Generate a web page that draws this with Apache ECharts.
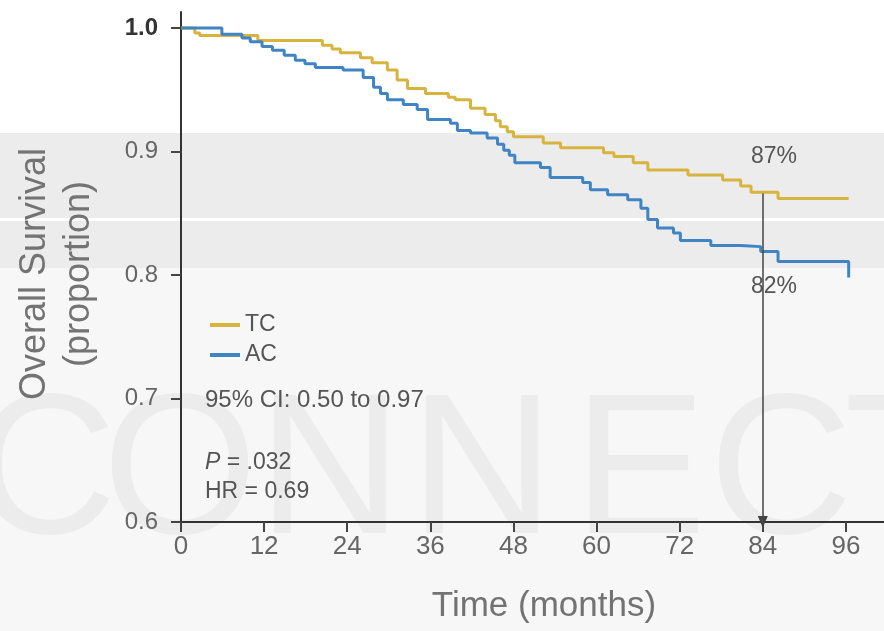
<!DOCTYPE html>
<html>
<head>
<meta charset="utf-8">
<title>Overall Survival TC vs AC</title>
<script src="https://cdn.jsdelivr.net/npm/echarts@6/dist/echarts.min.js"></script>
<style>
  html, body { margin: 0; padding: 0; background: #fff; }
  #chart { width: 884px; height: 631px; }
</style>
</head>
<body>
<div id="chart"></div>
<script>
// Kaplan-Meier step points (months, proportion alive)
const tcTime = [0, 2.0, 2.7, 11.1, 20.4, 21.8, 23.0, 25.9, 27.6, 29.8, 31.2, 32.7, 35.3, 38.6, 39.6, 41.8, 43.9, 45.4, 46.1, 47.1, 48.0, 52.3, 54.8, 61.0, 62.5, 65.3, 67.4, 73.2, 78.2, 80.8, 82.3, 86.2, 96.4]
const tcSurv = [1.0, 0.996, 0.994, 0.990, 0.986, 0.983, 0.980, 0.976, 0.972, 0.966, 0.958, 0.951, 0.947, 0.944, 0.942, 0.935, 0.930, 0.925, 0.920, 0.916, 0.912, 0.907, 0.903, 0.899, 0.896, 0.891, 0.885, 0.881, 0.877, 0.872, 0.867, 0.862, 0.862]

const acTime = [0, 5.9, 8.8, 10.0, 11.7, 13.2, 14.9, 16.5, 17.9, 19.4, 23.4, 26.3, 27.8, 28.8, 29.8, 32.1, 34.1, 35.6, 38.9, 39.9, 41.8, 44.2, 45.7, 46.6, 47.4, 48.2, 51.9, 53.3, 58.0, 59.1, 61.6, 64.5, 66.4, 67.4, 68.8, 71.1, 72.1, 76.5, 80.8, 83.7, 86.2, 96.4]
const acSurv = [1.0, 0.995, 0.992, 0.989, 0.985, 0.982, 0.978, 0.974, 0.971, 0.968, 0.966, 0.960, 0.952, 0.947, 0.942, 0.938, 0.934, 0.926, 0.923, 0.917, 0.915, 0.911, 0.906, 0.901, 0.897, 0.891, 0.887, 0.879, 0.875, 0.869, 0.865, 0.861, 0.854, 0.845, 0.838, 0.834, 0.828, 0.824, 0.823, 0.819, 0.811, 0.798]

const seriesNames = ['TC', 'AC']
const xTicks = [0, 12, 24, 36, 48, 60, 72, 84, 96]
const yTicks = [0.6, 0.7, 0.8, 0.9, 1.0]
const landmarkMonth = 84
const landmarkTop = 0.866
const landmarkLabels = ['87%', '82%']
const statLines = ['95% CI: 0.50 to 0.97', '.032', '0.69']

const FONT = "'Liberation Sans', Arial, sans-serif"
const TC_COLOR = '#D7B43E'
const AC_COLOR = '#4084C3'

const zip = (t, s) => t.map((m, i) => [m, s[i]])

const chart = echarts.init(document.getElementById('chart'))

const watermark = ['C', 'O', 'N', 'N', 'E', 'C', 'T']
const wmX = [45, 180, 330, 482, 640, 781, 905]

chart.setOption({
  backgroundColor: '#fff',
  animation: false,
  grid: { left: 181, right: 0, top: 12, bottom: 109 },
  xAxis: {
    type: 'value',
    min: 0,
    max: 101.5,
    interval: 12,
    splitLine: { show: false },
    axisLine: { lineStyle: { color: '#333', width: 2 } },
    axisTick: { length: 10, lineStyle: { color: '#444', width: 2 }, customValues: xTicks },
    axisLabel: {
      customValues: xTicks,
      margin: 12,
      fontSize: 26,
      color: '#666',
      fontFamily: FONT
    }
  },
  yAxis: {
    type: 'value',
    min: 0.6,
    max: 1.013,
    interval: 0.1,
    splitLine: { show: false },
    axisLine: { show: true, lineStyle: { color: '#333', width: 2 } },
    axisTick: { show: true, length: 10, lineStyle: { color: '#444', width: 2 }, customValues: yTicks },
    axisLabel: {
      customValues: yTicks,
      margin: 23,
      fontSize: 24,
      color: '#666',
      fontFamily: FONT,
      formatter: v => v > 0.99 ? '{b|' + v.toFixed(1) + '}' : v.toFixed(1),
      rich: { b: { fontSize: 24, fontWeight: 'bold', color: '#333', fontFamily: FONT } }
    }
  },
  legend: {
    data: seriesNames,
    orient: 'vertical',
    left: 205,
    top: 307,
    itemGap: 4,
    itemWidth: 30,
    itemHeight: 4,
    icon: 'rect',
    textStyle: { fontSize: 23, color: '#555', fontFamily: FONT, lineHeight: 26 }
  },
  graphic: [
    // paper shading behind the plot
    { type: 'rect', z: -20, shape: { x: 0, y: 133, width: 884, height: 85 }, style: { fill: '#ececec' } },
    { type: 'rect', z: -20, shape: { x: 0, y: 221, width: 884, height: 47 }, style: { fill: '#ececec' } },
    { type: 'rect', z: -20, shape: { x: 0, y: 268, width: 884, height: 363 }, style: { fill: '#f7f7f7' } },
    ...watermark.map((ch, i) => ({
      type: 'text', z: -10, x: wmX[i], y: 478,
      style: { text: ch, fontSize: 200, fontFamily: FONT, fill: 'rgba(0,0,0,0.045)', textAlign: 'center', textVerticalAlign: 'middle' }
    })),
    {
      type: 'text', x: 57, y: 274, rotation: Math.PI / 2,
      style: {
        text: 'Overall Survival\n(proportion)', fontSize: 36, lineHeight: 44, fontFamily: FONT,
        fill: '#737373', textAlign: 'center', textVerticalAlign: 'middle'
      }
    },
    {
      type: 'text', x: 544, y: 606,
      style: { text: 'Time (months)', fontSize: 35, fontFamily: FONT, fill: '#737373', textAlign: 'center', textVerticalAlign: 'middle' }
    },
    {
      type: 'text', x: 205, y: 400,
      style: { text: statLines[0], fontSize: 24, fontFamily: FONT, fill: '#555', textVerticalAlign: 'middle' }
    },
    {
      type: 'text', x: 205, y: 463,
      style: {
        text: '{i|P} = ' + statLines[1], fontSize: 23, fontFamily: FONT, fill: '#555', textVerticalAlign: 'middle',
        rich: { i: { fontStyle: 'italic', fontSize: 23, fontFamily: FONT, fill: '#555' } }
      }
    },
    {
      type: 'text', x: 205, y: 492,
      style: { text: 'HR = ' + statLines[2], fontSize: 23, fontFamily: FONT, fill: '#555', textVerticalAlign: 'middle' }
    },
    {
      type: 'text', x: 774, y: 157,
      style: { text: landmarkLabels[0], fontSize: 23, fontFamily: FONT, fill: '#555', textAlign: 'center', textVerticalAlign: 'middle' }
    },
    {
      type: 'text', x: 774, y: 287,
      style: { text: landmarkLabels[1], fontSize: 23, fontFamily: FONT, fill: '#555', textAlign: 'center', textVerticalAlign: 'middle' }
    }
  ],
  series: [
    {
      name: seriesNames[0],
      type: 'line',
      step: 'end',
      showSymbol: false,
      symbol: 'none',
      data: zip(tcTime, tcSurv),
      itemStyle: { color: TC_COLOR },
      lineStyle: { color: TC_COLOR, width: 3 },
      z: 3
    },
    {
      name: seriesNames[1],
      type: 'line',
      step: 'end',
      showSymbol: false,
      symbol: 'none',
      data: zip(acTime, acSurv),
      itemStyle: { color: AC_COLOR },
      lineStyle: { color: AC_COLOR, width: 3 },
      z: 4,
      markLine: {
        silent: true,
        symbol: ['none', 'triangle'],
        symbolSize: [10, 12],
        label: { show: false },
        lineStyle: { color: '#444', width: 1.5, type: 'solid' },
        data: [[{ coord: [landmarkMonth, landmarkTop] }, { coord: [landmarkMonth, 0.6] }]]
      }
    }
  ]
})
</script>
</body>
</html>
